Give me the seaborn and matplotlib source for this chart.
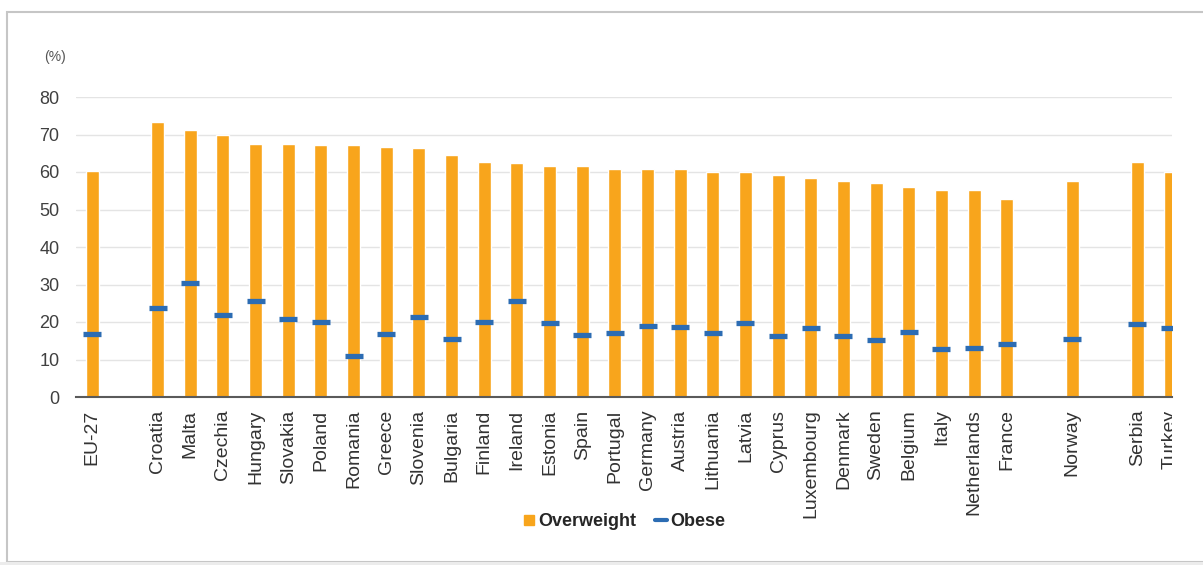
import matplotlib
matplotlib.use("Agg")
import matplotlib.pyplot as plt
import seaborn as sns
import pandas as pd
from matplotlib.lines import Line2D
from matplotlib.patches import Rectangle
from matplotlib.transforms import Bbox

# data (% of population)
countries = ["EU-27", "Croatia", "Malta", "Czechia", "Hungary", "Slovakia", "Poland",
             "Romania", "Greece", "Slovenia", "Bulgaria", "Finland", "Ireland", "Estonia",
             "Spain", "Portugal", "Germany", "Austria", "Lithuania", "Latvia", "Cyprus",
             "Luxembourg", "Denmark", "Sweden", "Belgium", "Italy", "Netherlands", "France",
             "Norway", "Serbia", "Turkey"]
overweight = [60.2, 73.3, 71.1, 69.9, 67.5, 67.5, 67.1, 67.1, 66.8, 66.4, 64.5, 62.6,
              62.4, 61.7, 61.7, 60.8, 60.7, 60.7, 60.1, 60.0, 59.3, 58.4, 57.7, 57.1,
              56.1, 55.2, 55.1, 52.8, 57.6, 62.6, 60.0]
obese = [16.8, 23.8, 30.5, 21.8, 25.7, 20.7, 20.1, 11.0, 16.8, 21.4, 15.5, 20.1,
         25.7, 19.7, 16.6, 17.0, 19.0, 18.6, 17.0, 19.7, 16.2, 18.4, 16.2, 15.1,
         17.3, 12.8, 13.1, 14.2, 15.5, 19.5, 18.4]

# empty slots separate EU-27, the member states, EFTA and candidates
order = (["EU-27", " "] + countries[1:28] + ["  ", "Norway", "   ", "Serbia", "Turkey"])

y_ticks = [0, 10, 20, 30, 40, 50, 60, 70, 80]

ORANGE = "#F8A51C"
BLUE = "#2C6CB3"

W, H = 1203, 565

df = pd.DataFrame({"country": countries, "overweight": overweight, "obese": obese})

sns.set_theme(style="white")
plt.rcParams["font.family"] = ["Liberation Sans", "DejaVu Sans"]

fig = plt.figure(figsize=(W / 100, H / 100), dpi=100)
ax = fig.add_axes([76 / W, 168 / H, 1096 / W, 300 / H])

sns.barplot(data=df, x="country", y="overweight", order=order, color=ORANGE,
            saturation=1, width=0.4, ax=ax)
sns.pointplot(data=df, x="country", y="obese", order=order, color=BLUE,
              linestyle="none", marker="_", markersize=13, markeredgewidth=3.8,
              errorbar=None, ax=ax)

ax.set_yticks(y_ticks)
ax.set_yticklabels([str(v) for v in y_ticks])
ax.set_xlabel("")
ax.set_ylabel("")

ax.yaxis.grid(True, color="#e4e4e4", lw=1)
ax.set_axisbelow(True)
for side in ["left", "top", "right"]:
    ax.spines[side].set_visible(False)
ax.spines["bottom"].set_color("#5a5a5a")
ax.spines["bottom"].set_linewidth(1.5)

ax.tick_params(axis="y", length=0, pad=12, labelsize=13, labelcolor="#404040")
ax.tick_params(axis="x", which="major", length=0, pad=9, labelsize=14,
               labelcolor="#333333", rotation=90)
ax.set_xticks([i + 0.5 for i in range(-1, 33)], minor=True)
ax.tick_params(axis="x", which="minor", length=5, width=1.2, color="#5a5a5a",
               direction="out")

# the source picture is cut off in the middle of the last bar
ax.set_xlim(-0.5, 33.06)
ax.set_ylim(0, 80)

clip = Bbox.from_extents(0, 0, 1172, H)
for lab in ax.get_xticklabels():
    if lab.get_text() == "Turkey":
        lab.set_clip_box(clip)
        lab.set_clip_on(True)

fig.text(66 / W, 1 - 57 / H, "(%)", ha="right", va="center", fontsize=10, color="#555555")

handles = [Line2D([0], [0], marker="s", color=ORANGE, linestyle="none", markersize=7),
           Line2D([0], [0], color=BLUE, lw=3)]
fig.legend(handles, ["Overweight", "Obese"], loc="center", bbox_to_anchor=(624 / W, 43 / H),
           ncol=2, frameon=False, prop={"weight": "bold", "size": 13},
           handlelength=0.7, handletextpad=0.15, columnspacing=1.0)

# light frame of the screenshot
fig.add_artist(Rectangle((7 / W, 3 / H), 1.2, 550 / H, transform=fig.transFigure,
                         fill=False, ec="#c6c6c6", lw=1.5))
fig.add_artist(Rectangle((0, 0), 1, 3 / H, transform=fig.transFigure,
                         color="#ececec", lw=0))

fig.savefig("out.png", dpi=100, facecolor="white")
